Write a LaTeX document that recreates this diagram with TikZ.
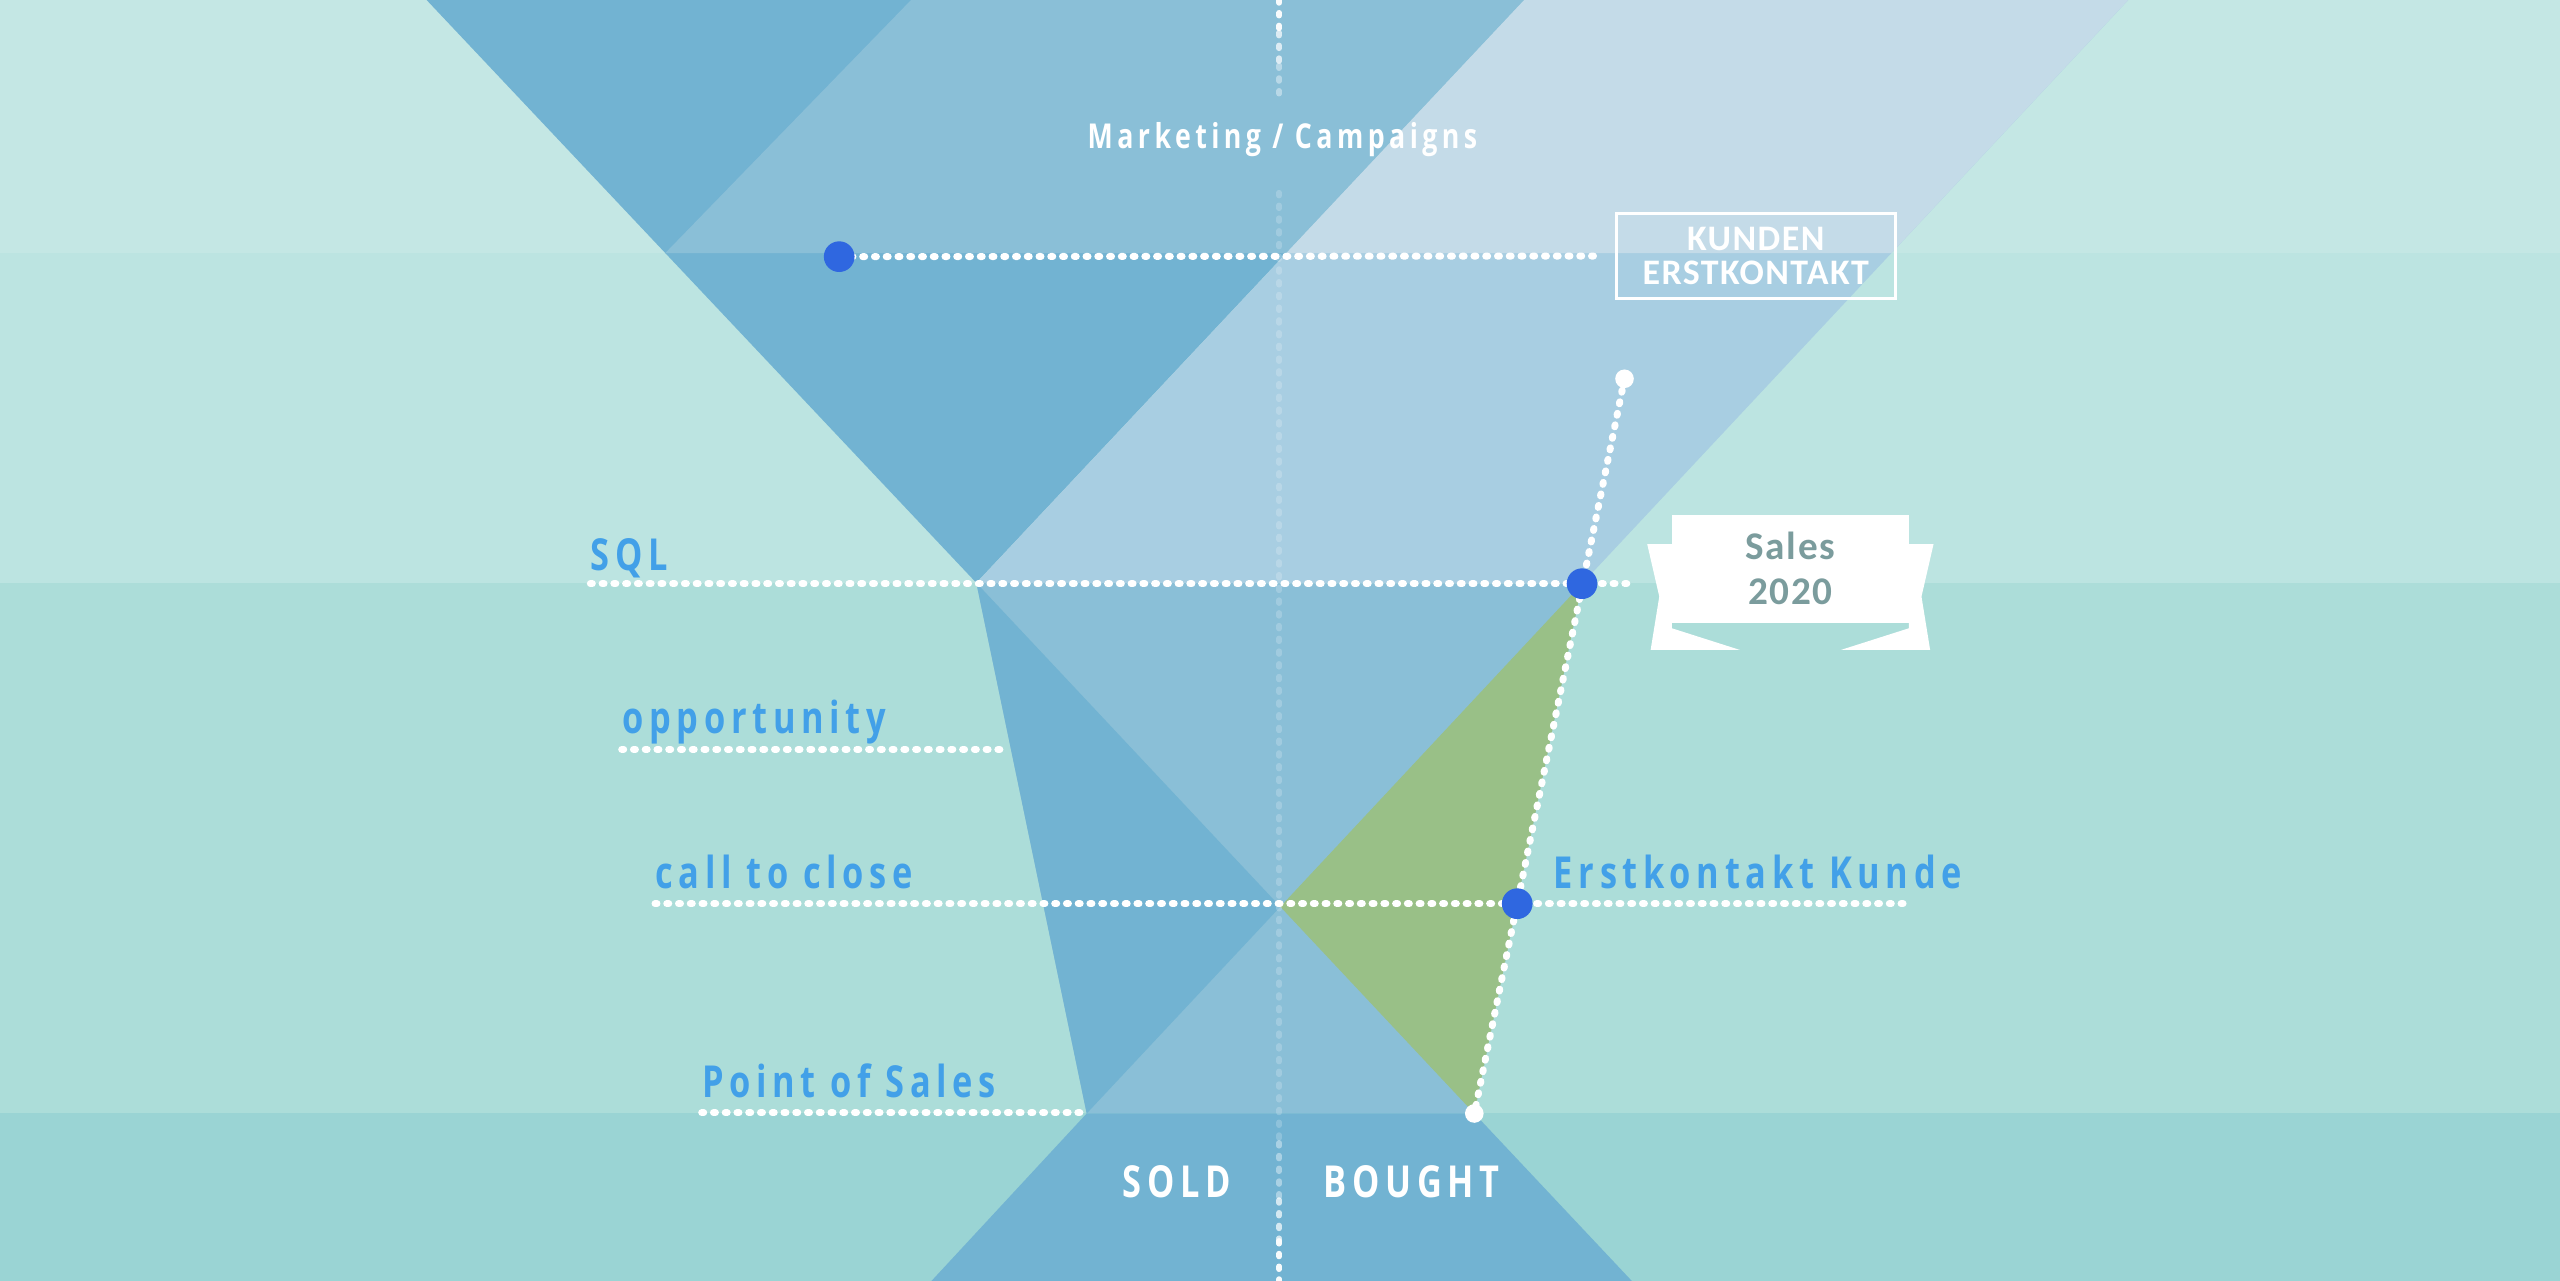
\documentclass[tikz,border=0pt]{standalone}
\usepackage{fontspec}
\usepackage{xcolor}
\usepackage{tikz}
\usetikzlibrary{calc,positioning}
\newfontfamily\stagefont[FakeStretch=0.78,LetterSpace=13]{Open Sans}
\newfontfamily\boxfont[LetterSpace=4]{Carlito}

\definecolor{bandA}{HTML}{C4E7E4}
\definecolor{bandB}{HTML}{BCE4E1}
\definecolor{bandC}{HTML}{ACDDD9}
\definecolor{bandD}{HTML}{9AD4D4}
\definecolor{darkblue}{HTML}{72B3D2}
\definecolor{midblue}{HTML}{8ABFD7}
\definecolor{paleblue}{HTML}{C4DBE8}
\definecolor{lightblue}{HTML}{A8CEE2}
\definecolor{leafgreen}{HTML}{99C087}
\definecolor{stageblue}{HTML}{42A0E8}
\definecolor{dotblue}{HTML}{2F67E0}
\definecolor{bannergray}{HTML}{7B9C9D}

\tikzset{
  dotline/.style={white,line width=4.3pt,line cap=round,dash pattern=on 1.2pt off 6.0pt},
  midline/.style={white,line width=3.4pt,line cap=round,dash pattern=on 1.8pt off 6.0pt},
  stage/.style={anchor=base west,inner sep=0pt,text=stageblue,
    font=\stagefont\bfseries\fontsize{27}{30}\selectfont},
  bluedot/.style={circle,fill=dotblue,minimum size=18.8pt,inner sep=0pt},
  whitedot/.style={circle,fill=white,minimum size=11.4pt,inner sep=0pt}
}

\begin{document}
\begin{tikzpicture}[x=1pt,y=-1pt]
  \useasboundingbox (0,0) rectangle (1568,784.6);
  \fill[bandA] (0,0) rectangle (1568,155);
  \fill[bandB] (0,155) rectangle (1568,357);
  \fill[bandC] (0,357) rectangle (1568,682);
  \fill[bandD] (0,682) rectangle (1568,784.6);
  % Trichter
  \coordinate (rimL) at (261.3,0);
  \coordinate (rimM) at (558,0);
  \coordinate (rimR) at (933.6,0);
  \coordinate (rimRR) at (1303.5,0);
  \coordinate (sqlL) at (598,357);
  \coordinate (sqlR) at (969,357.5);
  \coordinate (posL) at (665.6,682);
  \coordinate (posR) at (903,682);
  \coordinate (botL) at (570.5,784.6);
  \coordinate (botR) at (999.5,784.6);
  \coordinate (kL) at ($(rimL)!155/357!(sqlL)$);
  \coordinate (kM) at ($(rimR)!155/357!(sqlL)$);
  \coordinate (kR) at ($(rimRR)!155/357.5!(sqlR)$);
  \coordinate (cross) at (intersection of sqlL--posR and sqlR--posL);
  \fill[darkblue] (rimL) -- (rimR) -- (sqlL) -- cycle;
  \fill[midblue] (rimM) -- (rimR) -- (kM) -- (kL) -- cycle;
  \fill[lightblue] (rimR) -- (rimRR) -- (sqlR) -- (sqlL) -- cycle;
  \fill[paleblue] (rimR) -- (rimRR) -- (kR) -- (kM) -- cycle;
  \fill[midblue] (sqlL) -- (sqlR) -- (posR) -- (posL) -- cycle;
  \fill[darkblue] (sqlL) -- (cross) -- (posL) -- cycle;
  \fill[leafgreen] (sqlR) -- (posR) -- (cross) -- cycle;
  \fill[darkblue] (posL) -- (posR) -- (botR) -- (botL) -- cycle;
  % Mittellinie, oben und unten deutlicher
  \foreach \ya/\yb/\op in {0/20/0.95, 20/40/0.7, 40/58/0.4, 118/700/0.2,
      700/735/0.4, 735/760/0.7, 760/784.6/0.95}
    \draw[midline,opacity=\op] (783.5,\ya) -- (783.5,\yb);

  \node[draw=white,line width=1.8pt,minimum width=170.7pt,minimum height=52.5pt,
    inner sep=0pt,align=center,text=white,
    font=\boxfont\bfseries\fontsize{22}{20.5}\selectfont]
    (erstbox) at (1075.4,156.8) {KUNDEN\\ERSTKONTAKT};

  \coordinate (kunde) at (514,157.2);
  \coordinate (lead) at (995,232);
  \coordinate (sqlA) at (361.6,357.5);
  \coordinate (sqlB) at (1001,357.5);
  \coordinate (oppA) at (380.8,459);
  \coordinate (oppB) at (615.5,459);
  \coordinate (closeA) at (401.2,553.5);
  \coordinate (closeB) at (1166.8,553.5);
  \coordinate (firstc) at (929.3,553.5);
  \coordinate (posA) at (429.8,681.5);
  \coordinate (posB) at (664,681.5);

  \draw[dotline] (kunde) -- ([xshift=-8pt]erstbox.west);
  \draw[dotline] (sqlA) -- (sqlB);
  \draw[dotline] (oppA) -- (oppB);
  \draw[dotline] (closeA) -- (closeB);
  \draw[dotline] (posA) -- (posB);
  \draw[dotline] (lead) -- (posR);
  %Punkte auf den Linien
  \node[bluedot] (kundedot) at (kunde) {};
  \node[bluedot] (sqldot) at (sqlR) {};
  \node[bluedot] (firstdot) at (firstc) {};
  \node[whitedot] (leaddot) at (lead) {};
  \node[whitedot] (posdot) at (posR) {};

  \node[stage] (sql) at (361.6,349.5) {SQL};
  \node[stage] (opp) at (380.8,449.2) {opportunity};
  \node[stage] (close) at (401.2,544.5) {call to close};
  \node[stage] (pos) at (429.8,672.1) {Point of Sales};
  \node[stage] (erst) at (951.5,544.1) {Erstkontakt Kunde};

  \node[stage,anchor=base,text=white,font=\stagefont\bfseries\fontsize{21}{24}\selectfont]
    (mkt) at (785.5,90.8) {Marketing / Campaigns};
  \node[stage,anchor=base,text=white] (sold) at (720.9,733.3) {SOLD};
  \node[stage,anchor=base,text=white] (bought) at (864.6,733.3) {BOUGHT};

  % Banner
  \foreach \s in {1,-1}
    \fill[white,shift={(1096.6,0)},xscale=\s] (-87.7,333.2) -- (-72.6,333.2)
      -- (-72.6,384.8) -- (-30.9,398.1) -- (-85.6,398.1) -- (-80.3,365.4) -- cycle;
  \node[fill=white,minimum width=145.3pt,minimum height=66pt,inner sep=0pt,
    align=center,text=bannergray,
    font=\boxfont\bfseries\fontsize{24}{27.6}\selectfont]
    (sales) at (1096.6,348.4) {Sales\\2020};
\end{tikzpicture}
\end{document}
